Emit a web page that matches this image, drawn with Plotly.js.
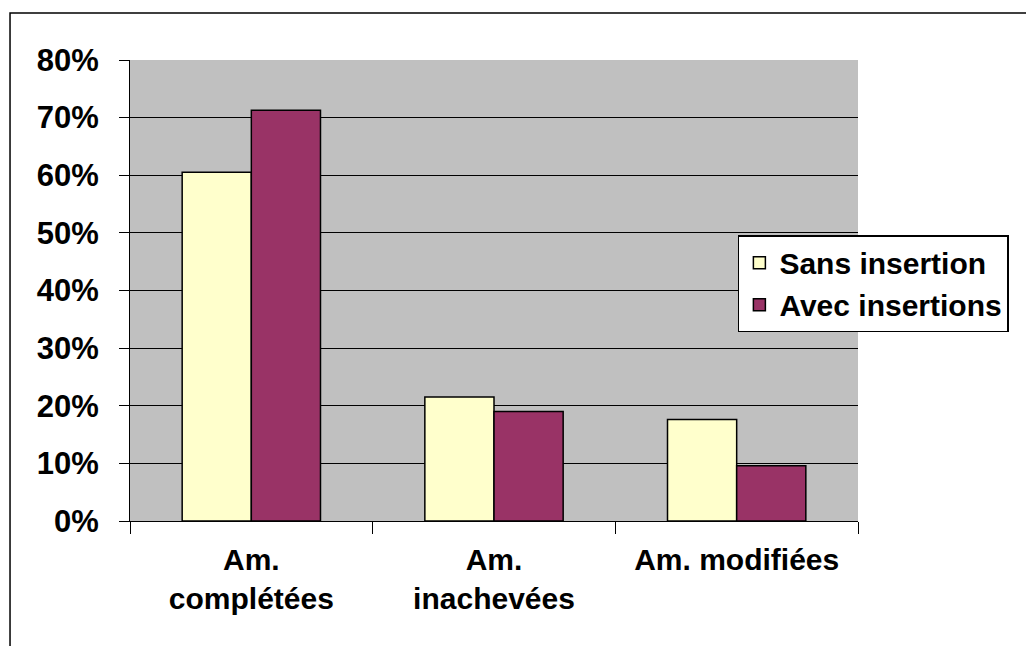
<!DOCTYPE html>
<html>
<head>
<meta charset="utf-8">
<script src="https://cdn.plot.ly/plotly-3.0.1.min.js"></script>
<style>html,body{margin:0;padding:0;background:#fff;}#chart{width:1026px;height:646px;}</style>
</head>
<body>
<div id="chart"></div>
<script>
var categories = ["Am.<br>complétées", "Am.<br>inachevées", "Am. modifiées"];
var sansInsertion = [60.5, 21.5, 17.6];
var avecInsertions = [71.3, 19.0, 9.6];
var seriesNames = ["Sans insertion", "Avec insertions"];
var yTicks = [0, 10, 20, 30, 40, 50, 60, 70, 80];

var fam = "Liberation Sans, Arial, sans-serif";

var traces = [
  {type: "bar", name: seriesNames[0], x: categories, y: sansInsertion,
   marker: {color: "#FFFFCC", line: {color: "#000", width: 1.5}}, hoverinfo: "none"},
  {type: "bar", name: seriesNames[1], x: categories, y: avecInsertions,
   marker: {color: "#993366", line: {color: "#000", width: 1.5}}, hoverinfo: "none"}
];

var layout = {
  width: 1026, height: 646,
  margin: {l: 130, r: 168, t: 60, b: 125, pad: 0},
  paper_bgcolor: "#fff",
  plot_bgcolor: "#C0C0C0",
  font: {family: fam, size: 24, color: "#000"},
  barmode: "group",
  bargap: 0.43,
  bargroupgap: 0,
  showlegend: true,
  legend: {
    x: 0.835, y: 0.62, xanchor: "left", yanchor: "top",
    bgcolor: "#fff", bordercolor: "#000", borderwidth: 1.5,
    font: {family: fam, size: 30, color: "#000", weight: "bold"},
    traceorder: "normal", itemwidth: 30, tracegroupgap: 0
  },
  xaxis: {
    type: "category",
    tickson: "boundaries",
    ticks: "outside", ticklen: 12, tickcolor: "#000", tickwidth: 1,
    ticklabelstandoff: 12,
    showline: true, linecolor: "#000", linewidth: 1,
    showgrid: false,
    tickfont: {family: fam, size: 30, color: "#000", weight: "bold"},
    fixedrange: true
  },
  yaxis: {
    range: [0, 80],
    tickvals: yTicks,
    ticktext: yTicks.map(function (v) { return v + "%"; }),
    ticks: "outside", ticklen: 10, tickcolor: "#000", tickwidth: 1,
    ticklabelstandoff: 14,
    showline: true, linecolor: "#000", linewidth: 1,
    showgrid: true, gridcolor: "#000", gridwidth: 1,
    zeroline: false,
    tickfont: {family: fam, size: 31, color: "#000", weight: "bold"},
    fixedrange: true
  },
  shapes: [
    {type: "rect", xref: "paper", yref: "paper",
     x0: -0.1648, x1: 1.25, y0: -0.3, y1: 1.102,
     line: {color: "#000", width: 1.5}, fillcolor: "rgba(0,0,0,0)", layer: "below"}
  ]
};

Plotly.newPlot("chart", traces, layout, {staticPlot: true, displayModeBar: false});
</script>
</body>
</html>
